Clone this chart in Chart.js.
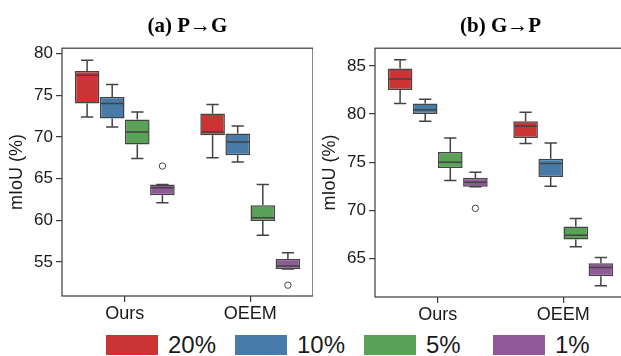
<!DOCTYPE html>
<html><head><meta charset="utf-8">
<script src="https://cdn.jsdelivr.net/npm/chart.js@4"></script>
<style>
html,body{margin:0;padding:0;background:#fff;overflow:hidden;width:621px;height:356px;}
#wrap{position:relative;width:621px;height:356px;overflow:hidden;}
canvas{position:absolute;top:0;}
#legend{position:absolute;left:106px;top:334px;height:22px;display:flex;font-family:"Liberation Sans",Arial,sans-serif;font-size:24px;color:#1a1a1a;}
.item{display:flex;align-items:center;width:129px;height:22px;}
.sw{width:52px;height:20px;margin-right:10px;flex:none;}
</style></head>
<body><div id="wrap">
<canvas id="c1" width="313" height="325" style="left:0"></canvas>
<canvas id="c2" width="313" height="325" style="left:313px"></canvas>
<div id="legend"></div>
</div>
<script>
// ---------------- data ----------------
const categories = ['Ours', 'OEEM'];
const hues = ['20%', '10%', '5%', '1%'];
const hueColors = ['#cb3335', '#477ca8', '#59a257', '#905998'];

// each entry: [whisker low, Q1, median, Q3, whisker high] for Ours, OEEM
// (a) P→G
const pg20 = [[72.4, 74.0, 77.4, 77.9, 79.2], [67.5, 70.2, 70.6, 72.8, 73.9]];
const pg10 = [[71.2, 72.2, 74.0, 74.8, 76.3], [67.0, 67.8, 69.4, 70.4, 71.3]];
const pg5  = [[67.4, 69.1, 70.6, 72.1, 73.0], [58.2, 59.9, 60.3, 61.8, 64.3]];
const pg1  = [[62.1, 63.0, 63.9, 64.3, 64.3], [54.15, 54.15, 54.5, 55.35, 56.1]];
const pgOutliers = [[null, null], [null, null], [null, null], [66.5, 52.2]];
const pgTicks = [55, 60, 65, 70, 75, 80];
const pgRange = [50.9, 80.65];

// (b) G→P
const gp20 = [[81.1, 82.5, 83.65, 84.75, 85.65], [76.95, 77.5, 78.75, 79.25, 80.2]];
const gp10 = [[79.25, 80.0, 80.45, 81.1, 81.55], [72.5, 73.45, 74.85, 75.35, 77.0]];
const gp5  = [[73.1, 74.4, 75.0, 76.05, 77.5], [66.2, 66.95, 67.4, 68.3, 69.15]];
const gp1  = [[72.45, 72.45, 72.9, 73.35, 73.95], [62.15, 63.15, 64.05, 64.5, 65.1]];
const gpOutliers = [[null, null], [null, null], [null, null], [70.2, null]];
const gpTicks = [65, 70, 75, 80, 85];
const gpRange = [60.98, 86.85];

// ---------------- style ----------------
const lineColor = '#434343';
const spineColor = '#3a3a3a';
const textColor = '#1a1a1a';
const sansFont = '"Liberation Sans", Arial, sans-serif';

const framePlugin = {
  id: 'frame',
  beforeDatasetsDraw(chart) {
    const a = chart.chartArea, ctx = chart.ctx;
    ctx.save();
    ctx.strokeStyle = spineColor;
    ctx.lineWidth = 1.2;
    ctx.strokeRect(a.left, a.top, a.right - a.left, a.bottom - a.top);
    ctx.restore();
  }
};

const boxPlugin = {
  id: 'boxWhiskers',
  afterDatasetsDraw(chart) {
    const ctx = chart.ctx, ys = chart.scales.y;
    const py = v => ys.getPixelForValue(v);
    chart.data.datasets.forEach((ds, i) => {
      const meta = chart.getDatasetMeta(i);
      meta.data.forEach((bar, j) => {
        const s = ds.stats[j];
        const x = bar.x, w = bar.width;
        ctx.save();
        ctx.strokeStyle = lineColor;
        ctx.lineWidth = 1.5;
        ctx.beginPath();
        ctx.moveTo(x, py(s[1])); ctx.lineTo(x, py(s[0]));
        ctx.moveTo(x - w / 4, py(s[0])); ctx.lineTo(x + w / 4, py(s[0]));
        ctx.moveTo(x, py(s[3])); ctx.lineTo(x, py(s[4]));
        ctx.moveTo(x - w / 4, py(s[4])); ctx.lineTo(x + w / 4, py(s[4]));
        ctx.moveTo(x - w / 2 + 1, py(s[2])); ctx.lineTo(x + w / 2 - 1, py(s[2]));
        ctx.stroke();
        const o = ds.outliers[j];
        if (o !== null && o !== undefined) {
          ctx.lineWidth = 1;
          ctx.beginPath();
          ctx.arc(x, py(o), 3.2, 0, Math.PI * 2);
          ctx.stroke();
        }
        ctx.restore();
      });
    });
  }
};

function makeChart(id, title, stats, outliers, range, ticks, xHeight) {
  return new Chart(document.getElementById(id), {
    type: 'bar',
    data: {
      labels: categories,
      datasets: hues.map((h, i) => ({
        label: h,
        data: stats[i].map(s => [s[1], s[3]]),
        stats: stats[i],
        outliers: outliers[i],
        backgroundColor: hueColors[i],
        borderColor: lineColor,
        borderWidth: 1.5,
        borderSkipped: false,
        categoryPercentage: 0.8,
        barPercentage: 0.98
      }))
    },
    options: {
      responsive: false,
      animation: false,
      devicePixelRatio: 1,
      layout: { padding: 0 },
      plugins: {
        legend: { display: false },
        tooltip: { enabled: false },
        title: {
          display: true,
          text: title,
          fullSize: false,
          color: '#000',
          font: { family: '"Liberation Serif", "Times New Roman", serif', size: 21, weight: 'bold' },
          padding: { top: 14, bottom: 9 }
        }
      },
      scales: {
        x: {
          type: 'category',
          offset: true,
          grid: { display: true, drawOnChartArea: false, offset: false, tickLength: 6, color: spineColor, lineWidth: 1.2 },
          border: { display: false },
          ticks: { color: textColor, font: { family: sansFont, size: 18 }, padding: 1 },
          afterFit(s) { s.height = xHeight; }
        },
        y: {
          min: range[0],
          max: range[1],
          afterBuildTicks(s) { s.ticks = ticks.map(v => ({ value: v })); },
          grid: { display: true, drawOnChartArea: false, tickLength: 6, color: spineColor, lineWidth: 1.2 },
          border: { display: false },
          ticks: { color: textColor, font: { family: sansFont, size: 17 }, padding: 3 },
          title: { display: true, text: 'mIoU (%)', color: textColor, font: { family: sansFont, size: 18 }, padding: { top: 6, bottom: 0 } },
          afterFit(s) { s.width = 62; }
        }
      }
    },
    plugins: [framePlugin, boxPlugin]
  });
}

makeChart('c1', '(a) P→G', [pg20, pg10, pg5, pg1], pgOutliers, pgRange, pgTicks, 29);
makeChart('c2', '(b) G→P', [gp20, gp10, gp5, gp1], gpOutliers, gpRange, gpTicks, 28);

// legend
const leg = document.getElementById('legend');
hues.forEach((h, i) => {
  const it = document.createElement('div'); it.className = 'item';
  const sw = document.createElement('div'); sw.className = 'sw'; sw.style.background = hueColors[i];
  const tx = document.createElement('span'); tx.textContent = h;
  it.appendChild(sw); it.appendChild(tx); leg.appendChild(it);
});
</script>
</body></html>
